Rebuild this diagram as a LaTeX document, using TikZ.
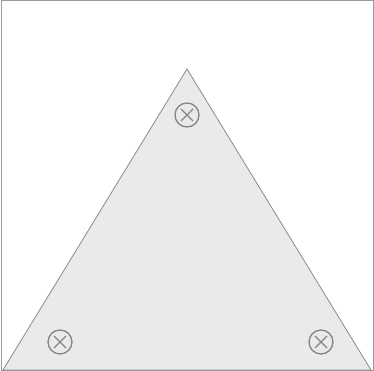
\documentclass[tikz,border=0pt]{standalone}
\usepackage{tikz}
\definecolor{framegray}{HTML}{9A9A9A}
\definecolor{sheetgray}{HTML}{EAEAEA}
\definecolor{edgegray}{HTML}{8A8A8A}
\definecolor{markgray}{HTML}{858585}
\tikzset{
  marker/.style={circle, draw=markgray, line width=1.3pt, minimum size=24pt, inner sep=0pt,
    path picture={
      \draw[markgray, line width=1.3pt]
        ([shift={(-6pt,-6pt)}]path picture bounding box.center) -- ([shift={(6pt,6pt)}]path picture bounding box.center)
        ([shift={(-6pt,6pt)}]path picture bounding box.center) -- ([shift={(6pt,-6pt)}]path picture bounding box.center);
    }}
}
\begin{document}
\begin{tikzpicture}[x=1pt, y=-1pt]
      \useasboundingbox (0,0) rectangle (374,371);
      \draw[framegray, line width=1pt] (1,1) rectangle (373,370);

      \coordinate (left) at (3,370);
      \coordinate (top) at (187,69);
      \coordinate (right) at (371,370);
      \filldraw[fill=sheetgray, draw=edgegray, line width=0.8pt] (left) -- (top) -- (right) -- cycle;

      \node[marker] (m1) at (187,115) {};
      \node[marker] (m2) at (60,342) {};
      \node[marker] (m3) at (321,342) {};
    \end{tikzpicture}
\end{document}
